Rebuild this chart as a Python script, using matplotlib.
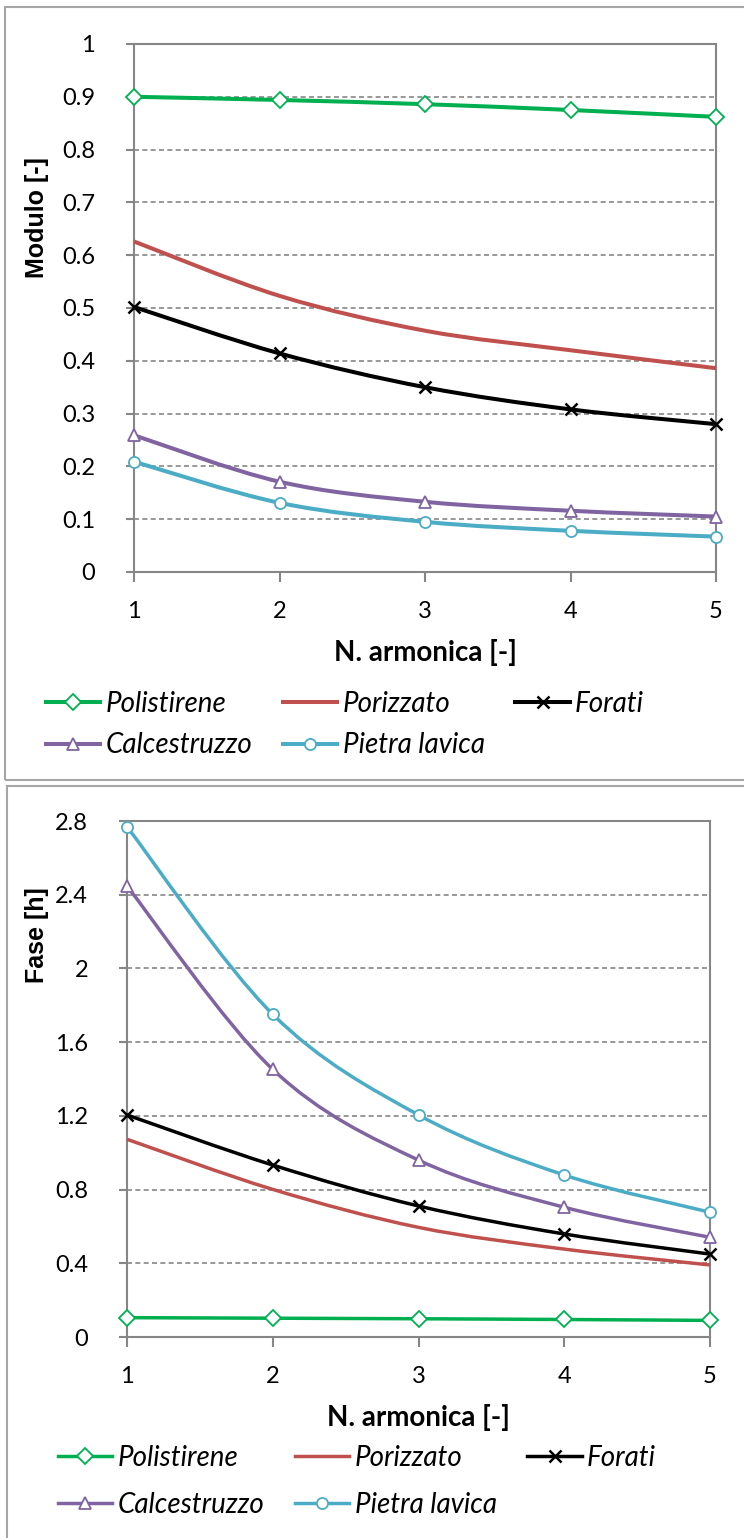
import numpy as np
import matplotlib
matplotlib.use("Agg")
import matplotlib.pyplot as plt
from matplotlib.path import Path
from matplotlib.patches import PathPatch, Rectangle
from matplotlib.lines import Line2D
from matplotlib.ticker import FuncFormatter

plt.rcParams['font.family'] = ['Lato', 'DejaVu Sans']

# harmonic number
armonica = [1, 2, 3, 4, 5]

materiali = ['Polistirene', 'Porizzato', 'Forati', 'Calcestruzzo', 'Pietra lavica']

# amplitude ratio [-]
modulo_polistirene = [0.900, 0.894, 0.886, 0.875, 0.862]
modulo_porizzato = [0.626, 0.523, 0.457, 0.420, 0.386]
modulo_forati = [0.502, 0.414, 0.350, 0.308, 0.280]
modulo_calcestruzzo = [0.259, 0.171, 0.133, 0.116, 0.105]
modulo_pietra = [0.209, 0.131, 0.095, 0.078, 0.067]

# phase shift [h]
fase_polistirene = [0.105, 0.102, 0.099, 0.095, 0.090]
fase_porizzato = [1.073, 0.801, 0.595, 0.477, 0.391]
fase_forati = [1.205, 0.933, 0.711, 0.559, 0.450]
fase_calcestruzzo = [2.447, 1.452, 0.960, 0.704, 0.541]
fase_pietra = [2.769, 1.751, 1.205, 0.879, 0.677]

colori = ['#00B050', '#C0504D', '#000000', '#8064A2', '#4BACC6']
marker = ['D', None, 'x', '^', 'o']
GRIGIO = '#868686'


def smooth_path(x, y):
    # bezier segments like spreadsheet "smoothed line"
    pts = np.column_stack([x, y]).astype(float)
    n = len(pts)
    verts = [pts[0]]
    codes = [Path.MOVETO]
    for i in range(n - 1):
        p0 = pts[max(i - 1, 0)]
        p1 = pts[i]
        p2 = pts[i + 1]
        p3 = pts[min(i + 2, n - 1)]
        c1 = p1 + (p2 - p0) / 6.0
        c2 = p2 - (p3 - p1) / 6.0
        verts += [c1, c2, p2]
        codes += [Path.CURVE4] * 3
    return Path(verts, codes)


def marker_style(col, mk, ms):
    return dict(color=col, marker=mk, ms=ms, mec=col,
                mfc=col if mk == 'x' else 'white',
                mew=1.8 if mk == 'x' else 1.3)


def draw_panel(ax, serie, ylim, ystep, ylabel, lw, ms, rowgap):
    for vals, col, mk in zip(serie, colori, marker):
        patch = PathPatch(smooth_path(armonica, vals), facecolor='none',
                          edgecolor=col, lw=lw, transform=ax.transData,
                          capstyle='butt', zorder=3)
        patch.set_clip_on(False)
        ax.add_patch(patch)
        if mk is not None:
            ax.plot(armonica, vals, linestyle='none', zorder=4, clip_on=False,
                    **marker_style(col, mk, ms))

    ax.set_xlim(1, 5)
    ax.set_ylim(*ylim)
    ax.set_xticks(armonica)
    ax.set_yticks(np.arange(ylim[0], ylim[1] + ystep / 2, ystep))
    ax.yaxis.set_major_formatter(FuncFormatter(lambda v, p: f'{round(v, 2):g}'))
    ax.grid(axis='y', color=GRIGIO, lw=1.2, linestyle=(0, (3, 2)))
    ax.set_axisbelow(True)
    for s in ax.spines.values():
        s.set_color(GRIGIO)
        s.set_linewidth(1.5)
    ax.tick_params(axis='both', colors=GRIGIO, labelcolor='black',
                   labelsize=17, width=1.5)
    ax.tick_params(axis='y', length=6, pad=22)
    ax.tick_params(axis='x', length=7, pad=14)
    ax.set_xlabel('N. armonica [-]', fontsize=20, fontweight='bold', labelpad=12)
    ax.set_ylabel(ylabel, fontsize=18, fontweight='bold',
                  family=['Liberation Sans', 'DejaVu Sans'])

    handles = [Line2D([], [], lw=lw, **marker_style(c, m, ms))
               for c, m in zip(colori, marker)]
    # order so that the rows read left to right
    order = [0, 3, 1, 4, 2]
    leg = ax.legend([handles[i] for i in order], [materiali[i] for i in order],
                    ncol=3, loc='upper left', frameon=False,
                    prop={'size': 20, 'style': 'italic'},
                    handlelength=1.95, handletextpad=0.2, columnspacing=1.1,
                    labelspacing=rowgap, borderaxespad=0)
    return leg


fig = plt.figure(figsize=(7.44, 15.38), dpi=100)
W, H = 744.0, 1538.0

# panel frames
fig.add_artist(Rectangle((5 / W, 1 - 780 / H), 1.0, 773 / H,
                         transform=fig.transFigure, fill=False,
                         edgecolor='#A6A6A6', lw=1.5))
fig.add_artist(Rectangle((7 / W, -0.01), 1.0, 1 - 786 / H + 0.01,
                         transform=fig.transFigure, fill=False,
                         edgecolor='#A6A6A6', lw=1.5))

ax1 = fig.add_axes([134 / W, 1 - 572 / H, 582 / W, 528 / H])
leg1 = draw_panel(ax1, [modulo_polistirene, modulo_porizzato, modulo_forati,
                        modulo_calcestruzzo, modulo_pietra],
                  (0, 1.0), 0.1, 'Modulo [-]', 2.9, 8, 0.55)
# y label sits above the middle of the axis
ax1.yaxis.set_label_coords(49 / W, 1 - 218 / H, transform=fig.transFigure)
leg1.set_bbox_to_anchor((35 / W, 1 - 680 / H), transform=fig.transFigure)

ax2 = fig.add_axes([127 / W, 1 - 1337 / H, 583 / W, 516 / H])
leg2 = draw_panel(ax2, [fase_polistirene, fase_porizzato, fase_forati,
                        fase_calcestruzzo, fase_pietra],
                  (0, 2.8), 0.4, 'Fase [h]', 2.5, 8, 0.75)
ax2.yaxis.set_label_coords(49 / W, 1 - 935 / H, transform=fig.transFigure)
leg2.set_bbox_to_anchor((47 / W, 1 - 1434 / H), transform=fig.transFigure)

fig.savefig('out.png', dpi=100)
